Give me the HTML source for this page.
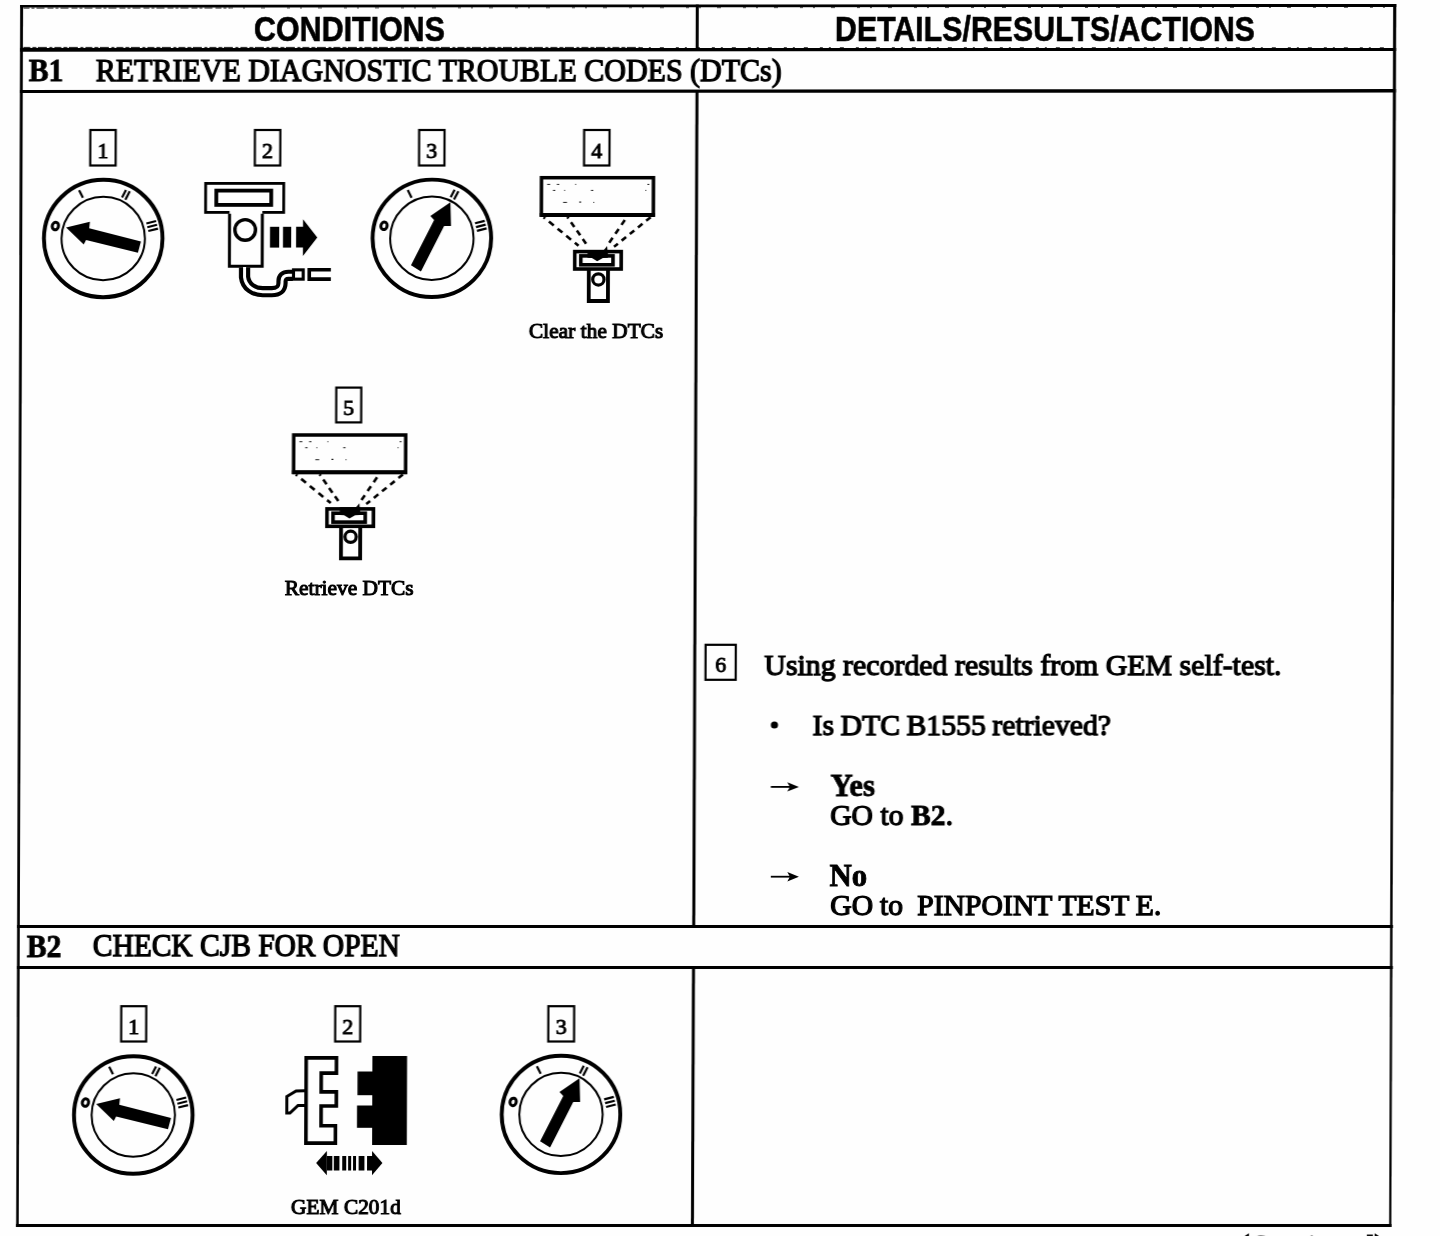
<!DOCTYPE html>
<html>
<head>
<meta charset="utf-8">
<title>Pinpoint Test B</title>
<style>
html,body{margin:0;padding:0;background:#fefefe;}
body{width:1440px;height:1236px;overflow:hidden;position:relative;}
#page{position:absolute;left:0;top:0;width:1440px;height:1236px;transform-origin:0 0;transform:matrix(1,0,-0.0034,1,0,0);filter:grayscale(1);}
#gfx{position:absolute;left:0;top:0;}
.t{position:absolute;white-space:pre;color:#000;line-height:1;font-family:"Liberation Serif",serif;font-size:29.7px;-webkit-text-stroke:1.25px #000;}
.h{font-family:"Liberation Sans",sans-serif;font-weight:bold;font-size:35px;-webkit-text-stroke:0.6px #000;transform:scaleX(0.87);transform-origin:0 0;}
.b{font-weight:bold;-webkit-text-stroke:0.8px #000;}
.cap{font-size:21.4px;-webkit-text-stroke:1.05px #000;}
.n{font-size:22px;text-align:center;width:28px;-webkit-text-stroke:0.9px #000;}
</style>
</head>
<body>
<div id="page">
<svg id="gfx" width="1440" height="1236" viewBox="0 0 1440 1236">
<defs>
<!-- ignition ring, centre 0,0 -->
<g id="ring" fill="none" stroke="#000">
  <ellipse rx="59.3" ry="58.7" stroke-width="3.9"/>
  <circle r="41.7" stroke-width="2"/>
  <g transform="rotate(-165.4)"><ellipse cx="49.5" cy="0" rx="3.1" ry="3.8" stroke-width="3"/></g>
  <g transform="rotate(-116.7)" stroke-width="2.2"><line x1="45.5" y1="0" x2="54" y2="0"/></g>
  <g transform="rotate(-62.9)" stroke-width="2.2"><line x1="45" y1="-2" x2="53.5" y2="-2"/><line x1="44.5" y1="2" x2="54" y2="2"/></g>
  <g transform="rotate(-14.3)" stroke-width="2.2"><line x1="45.5" y1="-3.9" x2="55.5" y2="-3.9"/><line x1="45.5" y1="0" x2="55.5" y2="0"/><line x1="45.5" y1="3.9" x2="55.5" y2="3.9"/></g>
</g>
<g id="ignoff"><use href="#ring"/>
  <polygon fill="#000" points="-37.15,-10.9 -13.35,-16.8 -14.05,-10.2 37.75,2.9 34.75,14.3 -17.15,1.4 -19.45,6"/>
</g>
<g id="ignon"><use href="#ring"/>
  <polygon fill="#000" points="18.4,-36.1 -1.6,-22.3 2.2,-18.4 -20.8,26.9 -10.8,33.1 12.2,-12.3 19.1,-12.3"/>
</g>
<!-- monitor + small scan tool, absolute coords of step 4 -->
<g id="mon">
  <rect x="541.3" y="177.7" width="112" height="37.3" fill="none" stroke="#000" stroke-width="3.5"/>
  <rect x="539.7" y="213" width="115.2" height="4" fill="#000"/>
  <g fill="#222">
    <rect x="547" y="183.9" width="3" height="1"/><rect x="556.7" y="183.9" width="2.4" height="1"/><rect x="575" y="183.9" width="1" height="1"/><rect x="647.2" y="183.9" width="2" height="1"/>
    <rect x="552.8" y="189.9" width="2.4" height="1"/><rect x="564" y="189.9" width="1" height="1"/><rect x="590.8" y="189.9" width="2.4" height="1"/><rect x="645.2" y="189.9" width="1" height="1"/>
    <rect x="563" y="201.9" width="3.9" height="1"/><rect x="579.1" y="201.5" width="2" height="1.2"/><rect x="593.2" y="201.9" width="1" height="1"/>
  </g>
  <g fill="none" stroke="#000" stroke-width="2.6">
    <line x1="543.6" y1="217.2" x2="578.6" y2="245.8" stroke-dasharray="6.2 5" stroke-dashoffset="4.3"/>
    <line x1="567.4" y1="217" x2="586.9" y2="244.9" stroke-dasharray="5.8 4.5" stroke-dashoffset="4"/>
    <line x1="624.8" y1="220" x2="609.2" y2="242.9" stroke-dasharray="5.9 4.9"/>
    <line x1="650.6" y1="217.2" x2="614.1" y2="246.8" stroke-dasharray="5.7 4.8"/>
  </g>
  <rect x="574.85" y="251.6" width="46.45" height="17.4" fill="none" stroke="#000" stroke-width="3.6"/>
  <rect x="580.9" y="255.9" width="32.2" height="8.9" fill="none" stroke="#000" stroke-width="3.6"/>
  <polygon fill="#000" points="587.6,250 608,250 608,257.8 603,258 597.3,261.3 592,258 587.6,257.8"/>
  <polygon fill="#000" points="603.5,250.5 607.2,246 607.6,250.5"/>
  <path d="M588.95,270 V301 H608.15 V270" fill="none" stroke="#000" stroke-width="3.8"/>
  <circle cx="598.55" cy="279.45" r="5.65" fill="none" stroke="#000" stroke-width="3.2"/>
</g>
</defs>

<!-- frame lines -->
<g fill="#000">
  <polygon points="20.2,5 1396.3,3.9 1396.3,6.9 20.2,7.6"/>
  <polygon points="20.2,47.9 1396.3,48.1 1396.3,50.9 20.2,51.7"/>
  <polygon points="20.2,90 1396.3,89.1 1396.3,92.6 20.2,92.9"/>
  <rect x="20.2" y="925" width="1376" height="3"/>
  <rect x="20.2" y="966" width="1376" height="3"/>
  <rect x="20.2" y="1224" width="1375.4" height="3"/>
  <polygon points="20.2,5 23.1,5 22.9,1227 20.3,1227"/>
  <polygon points="1393.2,4 1396.3,4 1395.5,1227 1393.3,1227"/>
  <rect x="695.8" y="4.6" width="3" height="46"/>
  <polygon points="695.8,90 698.8,90 698.4,928 695.4,928"/>
  <polygon points="695.3,966 698.3,966 698.1,1227 695.1,1227"/>
</g>

<!-- scan artefacts along header rules -->
<g fill="none" stroke="#000">
  <line x1="23.5" y1="47.4" x2="640" y2="47.4" stroke-width="0.9" stroke-dasharray="7 2 4 1.5 9 2.5 3 2"/>
  <line x1="640" y1="47.5" x2="1392" y2="47.6" stroke-width="0.7" stroke-dasharray="3 6 2 9 4 12"/>
  <line x1="23.5" y1="8.1" x2="230" y2="8" stroke-width="0.9" stroke-dasharray="6 2 3 2 8 3"/>
  <line x1="230" y1="8" x2="1392" y2="7.3" stroke-width="0.7" stroke-dasharray="3 10 2 16 4 22"/>
</g>

<!-- step boxes -->
<g fill="none" stroke="#000" stroke-width="2.2">
  <rect x="90.8" y="130" width="25.4" height="35.5"/>
  <rect x="255.4" y="130" width="25.4" height="35.5"/>
  <rect x="419.6" y="130" width="25.4" height="35.5"/>
  <rect x="584.6" y="130" width="25.4" height="35.5"/>
  <rect x="337.6" y="387.6" width="25" height="34.8"/>
  <rect x="707.8" y="644.8" width="30.2" height="35"/>
  <rect x="124.7" y="1006.2" width="25" height="35.3"/>
  <rect x="338.7" y="1006.2" width="25" height="35.3"/>
  <rect x="551.8" y="1006.2" width="25.8" height="35.3"/>
</g>

<!-- B1 icons -->
<use href="#ignoff" transform="translate(104.05,238.5)"/>
<g id="tool2" transform="translate(0.8,0)">
  <rect x="205.5" y="183.4" width="78.1" height="29" fill="none" stroke="#000" stroke-width="2.8"/>
  <rect x="216.2" y="190.6" width="54.9" height="14.3" fill="none" stroke="#000" stroke-width="3.8"/>
  <rect x="229.5" y="211" width="32.8" height="55.2" fill="#fefefe" stroke="none"/>
  <path d="M229.5,213.8 V266.2 H262.3 V213.8" fill="none" stroke="#000" stroke-width="3"/>
  <circle cx="245.2" cy="229.9" r="10.3" fill="none" stroke="#000" stroke-width="3.4"/>
  <g fill="#000">
    <rect x="270" y="226.8" width="9.2" height="20.8"/>
    <rect x="283" y="226.8" width="8.2" height="20.8"/>
    <polygon points="296.1,226.8 303,226.8 303,219.2 317.3,237.6 303,256 303,247.6 296.1,247.6"/>
  </g>
  <path id="cab" d="M244.7,267.6 V277 Q245.5,284 251,288 Q256,291.7 263,291.7 H272 Q282.2,291.7 282.2,283 V281.5 Q282.2,275.3 288.5,275.3 H293" fill="none" stroke="#000" stroke-width="11.3"/>
  <path d="M244.7,267 V277 Q245.5,284 251,288 Q256,291.7 263,291.7 H272 Q282.2,291.7 282.2,283 V281.5 Q282.2,275.3 288.5,275.3 H294" fill="none" stroke="#fefefe" stroke-width="3"/>
  <rect x="293.65" y="269.85" width="9.7" height="9.3" fill="#fefefe" stroke="#000" stroke-width="3.1"/>
  <path d="M331,269.7 H309.4 V279.1 H331" fill="none" stroke="#000" stroke-width="3.6"/>
</g>
<use href="#ignon" transform="translate(432.7,238.3)"/>
<use href="#mon" transform="translate(0.8,0)"/>
<use href="#mon" transform="translate(-246.1,257.3)"/>

<!-- B2 icons -->
<use href="#ignoff" transform="translate(137.1,1115)"/>
<g id="conn" transform="translate(3.8,0)">
  <path d="M306,1057.9 H336.3 V1073.1 H321.1 V1091.9 H336.3 V1106 H321.1 V1125.8 H335.5 V1143.1 H306 Z" fill="none" stroke="#000" stroke-width="3.6"/>
  <path d="M304.5,1090.8 L296,1091 L286.8,1096.5 V1113 H290 L298,1105.5 H304.5" fill="none" stroke="#000" stroke-width="3"/>
  <g fill="#000">
    <rect x="372.2" y="1056" width="34.7" height="89"/>
    <rect x="357.4" y="1071.5" width="16" height="23.7"/>
    <rect x="357" y="1105.5" width="16" height="22.3"/>
    <polygon points="316.3,1162.9 327,1151 327,1175.3"/>
    <rect x="327" y="1156" width="5.5" height="14.5"/>
    <rect x="334" y="1156" width="5.6" height="14.5"/>
    <rect x="342.4" y="1156" width="4" height="14.5"/>
    <rect x="348.3" y="1156" width="3" height="14.5"/>
    <rect x="353.2" y="1156" width="3" height="14.5"/>
    <rect x="358.8" y="1156" width="5.8" height="14.5"/>
    <rect x="367.2" y="1156" width="5.2" height="14.5"/>
    <polygon points="382.6,1162.9 372.2,1151 372.2,1175.3"/>
  </g>
</g>
<use href="#ignon" transform="translate(564.8,1114.4)"/>

<!-- result arrows -->
<g stroke="#000" fill="#000">
  <line x1="773.5" y1="786.9" x2="793" y2="786.9" stroke-width="1.8"/>
  <polygon points="801.6,786.9 790,782.2 792.6,786.9 790,791.6" stroke="none"/>
  <line x1="773.8" y1="876.7" x2="793.4" y2="876.7" stroke-width="1.8"/>
  <polygon points="801.9,876.7 790.3,872 792.9,876.7 790.3,881.4" stroke="none"/>
  <circle cx="776.9" cy="725" r="3.6" stroke="none"/>
</g>
</svg>

<div class="t h" style="left:253.8px;top:11.3px;">CONDITIONS</div>
<div class="t h" style="left:834.5px;top:11.3px;transform:scaleX(0.8665);">DETAILS/RESULTS/ACTIONS</div>
<div class="t" style="left:29.3px;top:55.1px;font-size:31.05px;transform:scaleX(0.957);transform-origin:0 0;"><span class="b">B1</span></div>
<div class="t" style="left:96.2px;top:55.1px;font-size:31.35px;transform:scaleX(0.957);transform-origin:0 0;">RETRIEVE DIAGNOSTIC TROUBLE CODES (DTCs)</div>
<div class="t" style="left:30.4px;top:931.2px;font-size:31.05px;transform:scaleX(0.957);transform-origin:0 0;"><span class="b">B2</span></div>
<div class="t" style="left:96.4px;top:931.2px;font-size:30.8px;transform:scaleX(0.957);transform-origin:0 0;">CHECK CJB FOR OPEN</div>

<div class="t n" style="left:89.5px;top:140px;">1</div>
<div class="t n" style="left:254.1px;top:140px;">2</div>
<div class="t n" style="left:418.3px;top:140px;">3</div>
<div class="t n" style="left:583.3px;top:140px;">4</div>
<div class="t n" style="left:336.1px;top:397.4px;">5</div>
<div class="t n" style="left:709px;top:654px;">6</div>
<div class="t n" style="left:123.2px;top:1016.4px;">1</div>
<div class="t n" style="left:337.2px;top:1016.4px;">2</div>
<div class="t n" style="left:550.7px;top:1016.4px;">3</div>

<div class="t cap" style="left:530.1px;top:320.8px;">Clear the DTCs</div>
<div class="t cap" style="left:286.7px;top:578.2px;">Retrieve DTCs</div>
<div class="t cap" style="left:295px;top:1197px;">GEM C201d</div>

<div class="t" style="left:766.6px;top:650px;font-size:29.85px;">Using recorded results from GEM self-test.</div>
<div class="t" style="left:815px;top:711.4px;word-spacing:-0.8px;">Is DTC B1555 retrieved?</div>
<div class="t b" style="left:833.2px;top:770.9px;font-size:30.8px;">Yes</div>
<div class="t" style="left:832.9px;top:800.8px;">GO to <span class="b">B2</span>.</div>
<div class="t b" style="left:832.5px;top:860.8px;font-size:30.8px;">No</div>
<div class="t" style="left:833.2px;top:890.9px;word-spacing:-0.4px;">GO to  PINPOINT TEST E.</div>
<div class="t" style="left:1243.6px;top:1230px;font-size:30px;">(Continued)</div>
</div>
</body>
</html>
